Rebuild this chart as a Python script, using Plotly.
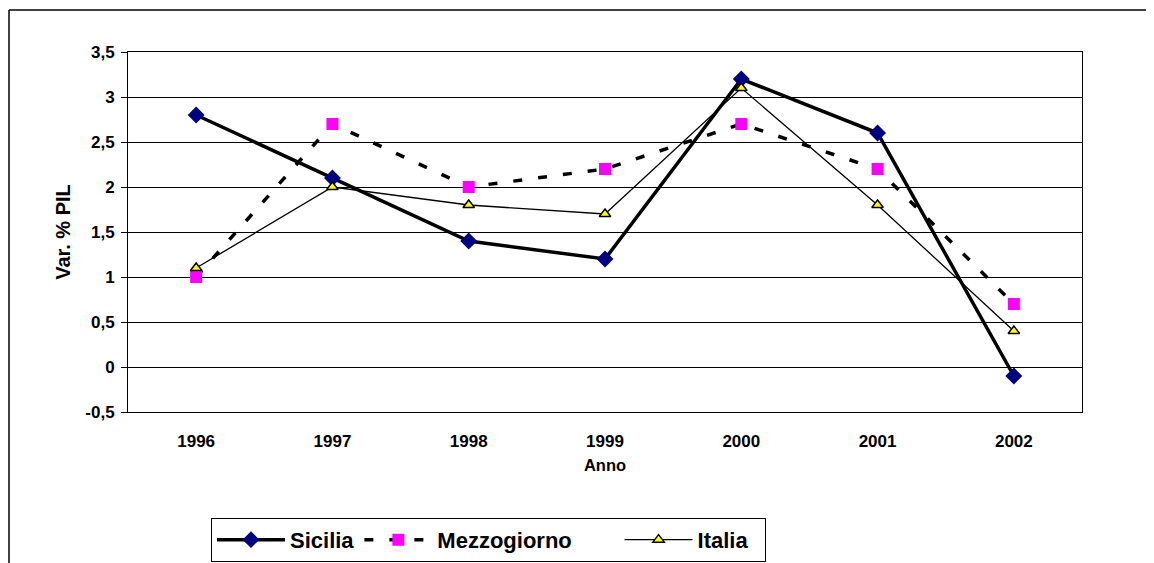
import plotly.graph_objects as go

anni = ["1996", "1997", "1998", "1999", "2000", "2001", "2002"]
sicilia = [2.8, 2.1, 1.4, 1.2, 3.2, 2.6, -0.1]
mezzogiorno = [1.0, 2.7, 2.0, 2.2, 2.7, 2.2, 0.7]
italia = [1.1, 2.0, 1.8, 1.7, 3.1, 1.8, 0.4]
y_ticks = [-0.5, 0, 0.5, 1, 1.5, 2, 2.5, 3, 3.5]
y_tick_labels = ["-0,5", "0", "0,5", "1", "1,5", "2", "2,5", "3", "3,5"]
boundaries = [-0.5, 0.5, 1.5, 2.5, 3.5, 4.5, 5.5, 6.5]

FONT = "Liberation Sans"
NB = "\u00a0"

fig = go.Figure()
fig.add_trace(go.Scatter(
    x=anni, y=sicilia, name="Sicilia", mode="lines+markers",
    line=dict(color="black", width=3.5),
    marker=dict(symbol="diamond", size=13, color="#000080", line=dict(width=0)),
))
fig.add_trace(go.Scatter(
    x=anni, y=mezzogiorno, name="Mezzogiorno" + NB * 7, mode="lines+markers",
    line=dict(color="black", width=3.5, dash="9px,16px"),
    marker=dict(symbol="square", size=12, color="#FF00FF", line=dict(width=0)),
))
fig.add_trace(go.Scatter(
    x=anni, y=italia, name="Italia" + NB * 2, mode="lines+markers",
    line=dict(color="black", width=1.3),
    marker=dict(symbol="triangle-up", size=10, color="#FFFF00", line=dict(color="black", width=1.5)),
))

fig.update_layout(
    width=1146, height=555,
    margin=dict(l=120, r=72, t=44, b=151, autoexpand=False),
    paper_bgcolor="white", plot_bgcolor="white",
    font=dict(family=FONT, color="black"),
    showlegend=True,
    legend=dict(
        orientation="h", x=0.087, y=-0.294, xanchor="left", yanchor="top",
        bordercolor="black", borderwidth=1,
        font=dict(family=FONT, size=22, color="black", weight="bold"),
        itemwidth=68, tracegroupgap=0,
    ),
    xaxis=dict(
        type="category", categoryarray=anni, range=[-0.5, 6.5],
        showgrid=False, zeroline=False,
        showline=True, linecolor="black", linewidth=1, mirror=True,
        ticks="", ticklabelstandoff=14,
        tickfont=dict(family=FONT, size=17, color="black", weight="bold"),
        title=dict(text="Anno", font=dict(family=FONT, size=16.5, color="black", weight="bold"), standoff=9),
    ),
    xaxis2=dict(
        overlaying="x", anchor="free", position=0.125, side="bottom",
        range=[-0.5, 6.5], tickvals=boundaries, showticklabels=False,
        ticks="inside", ticklen=5, tickcolor="black", tickwidth=1.5,
        showline=True, linecolor="black", linewidth=2,
        showgrid=False, zeroline=False,
    ),
    yaxis=dict(
        range=[-0.5, 3.5], tickvals=y_ticks, ticktext=y_tick_labels,
        showgrid=True, gridcolor="black", gridwidth=1,
        zeroline=False,
        showline=True, linecolor="black", linewidth=1, mirror=True,
        ticks="outside", ticklen=6, tickcolor="black", ticklabelstandoff=3,
        tickfont=dict(family=FONT, size=17, color="black", weight="bold"),
        title=dict(text="Var. % PIL", font=dict(family=FONT, size=20, color="black", weight="bold"), standoff=9),
    ),
)

# outer chart-area border (only top and left edges fall inside the picture)
bx0 = (1 - 120) / 954
bx1 = (1160 - 120) / 954
by_top = (404 - 2) / 360
by_bot = (404 - 600) / 360
fig.add_shape(type="line", xref="paper", yref="paper", x0=bx0, x1=bx1, y0=by_top, y1=by_top,
              line=dict(color="black", width=1.5), layer="below")
fig.add_shape(type="line", xref="paper", yref="paper", x0=bx0, x1=bx0, y0=by_top, y1=by_bot,
              line=dict(color="black", width=1.5), layer="below")

fig.write_html(
    "out.html",
    post_script="document.documentElement.style.overflow='hidden';document.body.style.overflow='hidden';",
)
